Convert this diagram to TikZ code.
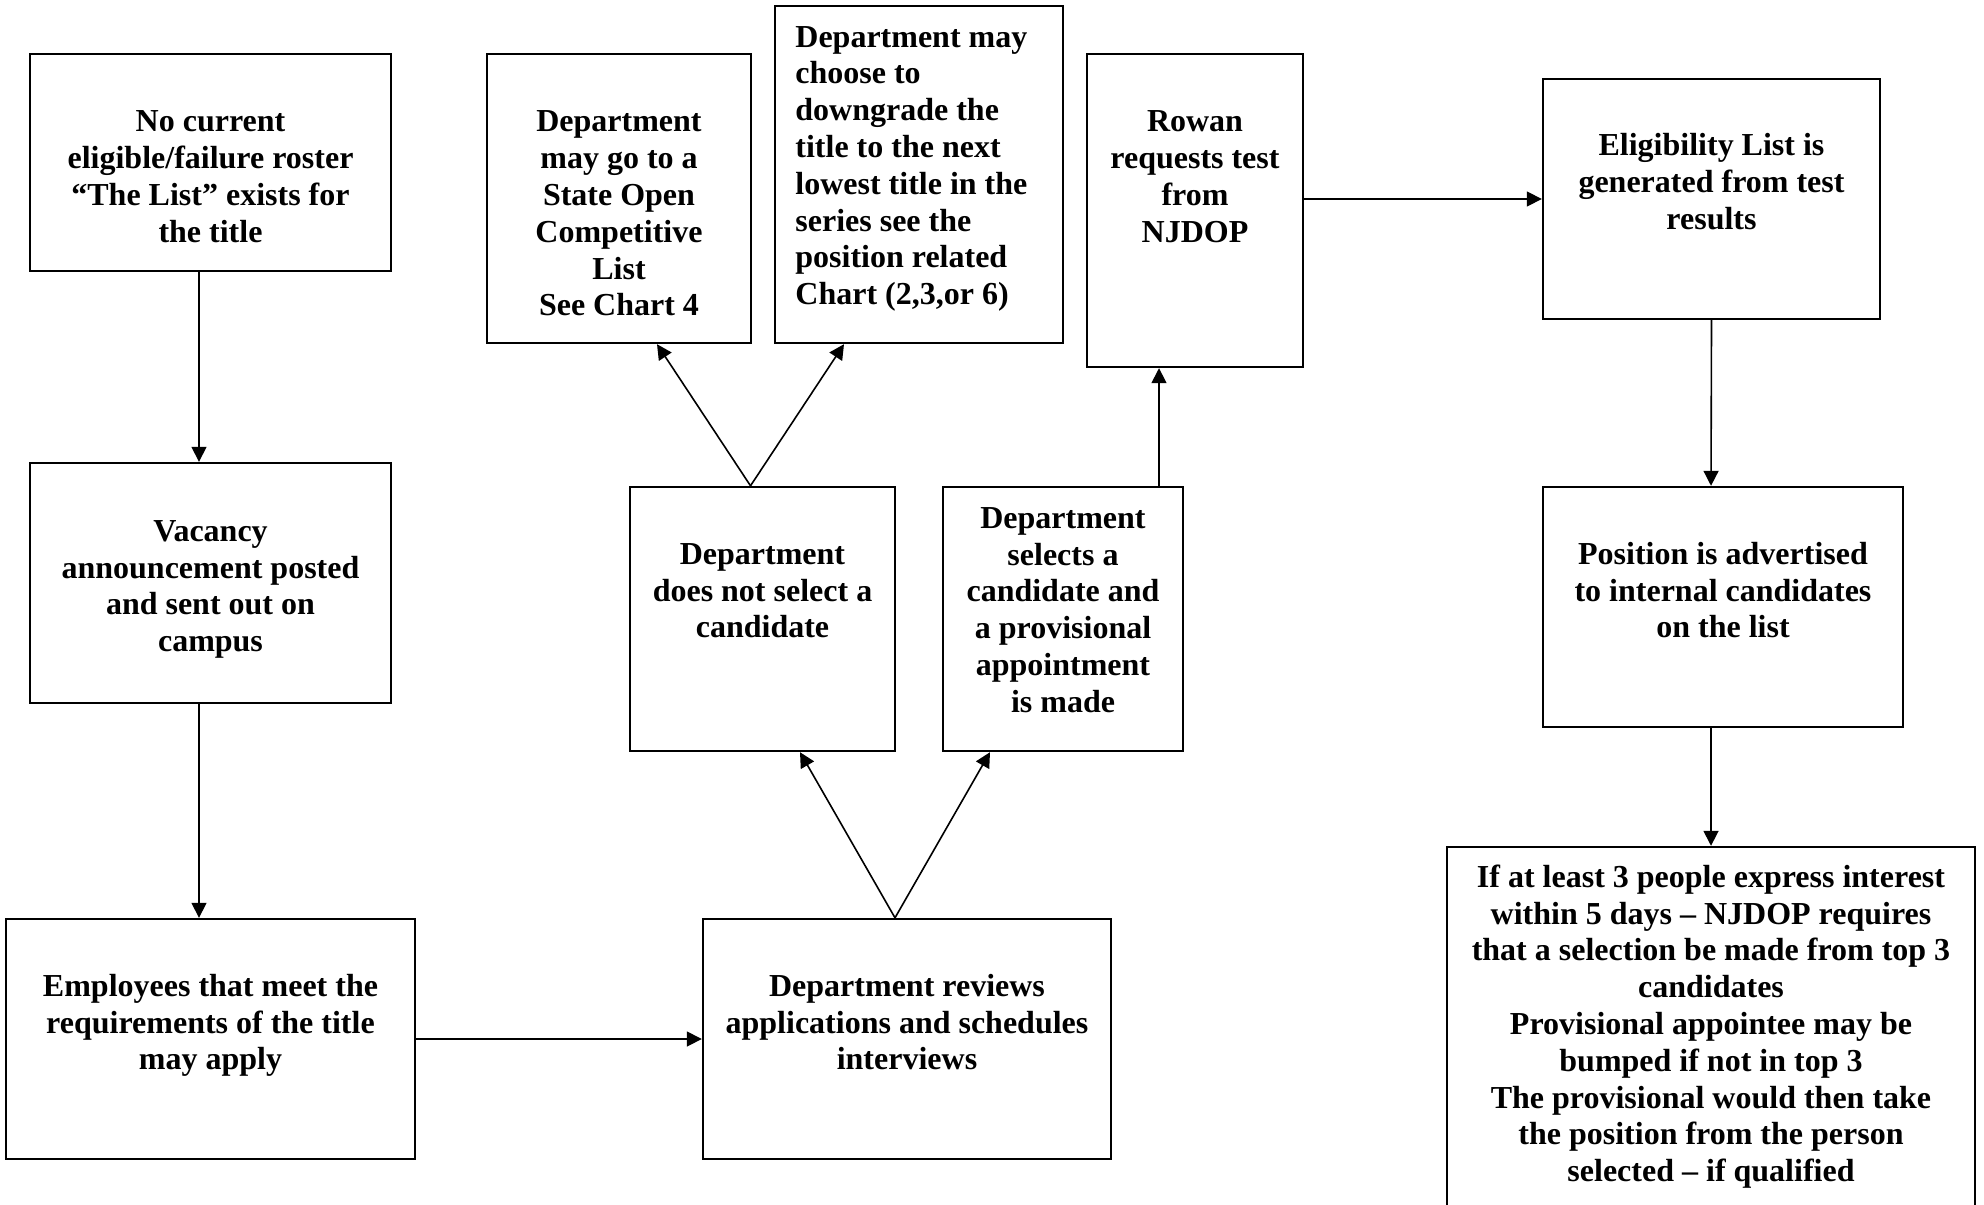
\documentclass[tikz,border=0pt]{standalone}
\usepackage{fontspec}
\setmainfont{Liberation Serif}
\usetikzlibrary{arrows.meta,calc,fit}

\begin{document}
\begin{tikzpicture}[x=0.5pt,y=-0.5pt,
  box/.style={draw, line width=1.2pt, inner sep=0pt},
  txt/.style={font=\fontsize{16pt}{18.4pt}\selectfont\bfseries, align=center, inner sep=0pt, anchor=north},
  ltxt/.style={txt, align=left, anchor=north west},
  arr/.style={line width=0.8pt, -{Triangle[length=7.5pt,width=7.5pt]}}]
\useasboundingbox (0,0) rectangle (1984,1204);
\clip (0,0) rectangle (1984,1204);
\fill[white] (0,0) rectangle (1984,1204);

% ---- boxes ----
\node[box, fit={(30,54) (391,271)}]    (b1)  {};
\node[box, fit={(30,463) (391,703)}]   (b2)  {};
\node[box, fit={(6,919) (415,1159)}]   (b3)  {};
\node[box, fit={(703,919) (1111,1159)}] (b4) {};
\node[box, fit={(630,487) (895,751)}]  (b5)  {};
\node[box, fit={(943,487) (1183,751)}] (b6)  {};
\node[box, fit={(487,54) (751,343)}]   (b7)  {};
\node[box, fit={(775,6) (1063,343)}]   (b8)  {};
\node[box, fit={(1087,54) (1303,367)}] (b9)  {};
\node[box, fit={(1543,79) (1880,319)}] (b10) {};
\node[box, fit={(1543,487) (1903,727)}] (b11) {};
\node[box, fit={(1447,847) (1975,1230)}] (b12) {};

% ---- texts ----
\node[txt] (t1) at (210.5,105.7) {\strut No current\\eligible/failure roster\\“The List” exists for\\the title};
\node[txt] (t7) at (619,105.7) {\strut Department\\may go to a\\State Open\\Competitive\\List\\See Chart 4};
\node[ltxt] (t8) at (795,21) {\strut Department may\\choose to\\downgrade the\\title to the next\\lowest title in the\\series see the\\position related\\Chart (2,3,or 6)};
\node[txt] (t9) at (1195,105.7) {\strut Rowan\\requests test\\from\\NJDOP};
\node[txt] (t10) at (1711.5,129.7) {\strut Eligibility List is\\generated from test\\results};
\node[txt] (t2) at (210.5,515.2) {\strut Vacancy\\announcement posted\\and sent out on\\campus};
\node[txt] (t3) at (210.5,970.2) {\strut Employees that meet the\\requirements of the title\\may apply};
\node[txt] (t4) at (907,970.2) {\strut Department reviews\\applications and schedules\\interviews};
\node[txt] (t5) at (762.5,538.2) {\strut Department\\does not select a\\candidate};
\node[txt] (t6) at (1063,502.2) {\strut Department\\selects a\\candidate and\\a provisional\\appointment\\is made};
\node[txt] (t11) at (1723,538.2) {\strut Position is advertised\\to internal candidates\\on the list};
\node[txt] (t12) at (1711,861.2) {\strut If at least 3 people express interest\\within 5 days – NJDOP requires\\that a selection be made from top 3\\candidates\\Provisional appointee may be\\bumped if not in top 3\\The provisional would then take\\the position from the person\\selected – if qualified};

% ---- connectors ----
\draw[arr] ($(b1.south)+(-11.5,0)$) -- ($(b2.north)+(-11.5,0)$);
\draw[arr] ($(b2.south)+(-11.5,0)$) -- ($(b3.north)+(-11.5,0)$);
\draw[arr] (b3.east) -- (b4.west);
\draw[arr] ($(b4.north)+(-12,0)$) -- ($(b5.south)+(37.5,0)$);
\draw[arr] ($(b4.north)+(-12,0)$) -- ($(b6.south)+(-73,0)$);
\draw[arr] ($(b5.north)+(-12,0)$) -- ($(b7.south)+(38,0)$);
\draw[arr] ($(b5.north)+(-12,0)$) -- ($(b8.south)+(-75,0)$);
\draw[arr] ($(b6.north)+(96,0)$) -- ($(b9.south)+(-36,0)$);
\draw[arr] ($(b9.east)+(0,-11.5)$) -- (b10.west);
\draw[arr] (b10.south) -- ($(b11.north)+(-12,0)$);
\draw[arr] ($(b11.south)+(-12,0)$) -- (b12.north);
\end{tikzpicture}
\end{document}
